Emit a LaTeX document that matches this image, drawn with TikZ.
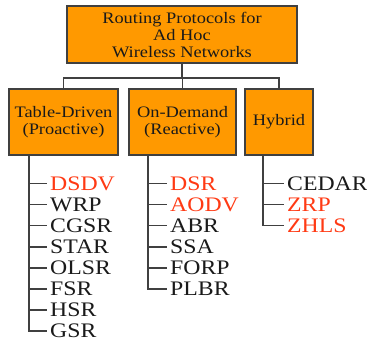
\documentclass[tikz,border=0pt]{standalone}
\usepackage{fontspec}
\setmainfont{Liberation Serif}
\usepackage{graphicx}
\definecolor{boxfill}{HTML}{FF9900}
\definecolor{edge}{HTML}{404040}
\definecolor{hot}{HTML}{FF3A14}
\definecolor{ink}{HTML}{1A1A1A}
% slightly widened lettering
\newcommand{\widen}[1]{\scalebox{1.15}[1]{#1}}
\tikzset{
  catbox/.style={draw=edge, line width=1.3pt, fill=boxfill, text=ink,
    align=center, inner sep=0pt, font=\fontsize{12}{12.75}\selectfont},
  proto/.style={anchor=west, inner xsep=2.2pt, inner ysep=0pt, text=ink,
    font=\fontsize{15.5}{16}\selectfont},
  hotproto/.style={proto, text=hot},
  link/.style={draw=edge, line width=1.1pt}
}
\begin{document}
\begin{tikzpicture}[x=0.75pt, y=-0.75pt]
\useasboundingbox (0,0) rectangle (367,342);

% category boxes
\node[catbox, minimum width=230*0.75pt, minimum height=57*0.75pt] (top) at (182,34.5)
  {\widen{Routing Protocols for}\\\widen{Ad Hoc}\\\widen{Wireless Networks}};
\node[catbox, minimum width=109*0.75pt, minimum height=66*0.75pt] (tab) at (63.5,122)
  {\widen{Table-Driven}\\\widen{(Proactive)}};
\node[catbox, minimum width=107*0.75pt, minimum height=66*0.75pt] (dem) at (182.5,122)
  {\widen{On-Demand}\\\widen{(Reactive)}};
\node[catbox, minimum width=68*0.75pt, minimum height=66*0.75pt] (hyb) at (279,122)
  {\widen{Hybrid}};

% bus joining the root to the three categories
\coordinate (bus) at (182,78);
\draw[link] (top.south) -- (bus);
\draw[link] (tab.north) |- (bus) -| (hyb.north);
\draw[link] (dem.north) -- (dem.north |- bus);

% protocol lists
\def\gap{21.1}
\foreach \name/\sty [count=\i from 0] in
  {DSDV/hotproto, WRP/proto, CGSR/proto, STAR/proto, OLSR/proto, FSR/proto, HSR/proto, GSR/proto}
  \node[\sty] (t\i) at (47,183.5+\i*\gap) {\widen{\name}};
\foreach \name/\sty [count=\i from 0] in
  {DSR/hotproto, AODV/hotproto, ABR/proto, SSA/proto, FORP/proto, PLBR/proto}
  \node[\sty] (d\i) at (167,183.5+\i*\gap) {\widen{\name}};
\foreach \name/\sty [count=\i from 0] in
  {CEDAR/proto, ZRP/hotproto, ZHLS/hotproto}
  \node[\sty] (h\i) at (284,183.5+\i*\gap) {\widen{\name}};

% spines and branches
\coordinate (tspine) at (29,155);
\coordinate (dspine) at (148,155);
\coordinate (hspine) at (263,155);
\draw[link] (tspine) |- (t7.west);
\foreach \i in {0,...,6} \draw[link] (tspine |- t\i.west) -- (t\i.west);
\draw[link] (dspine) |- (d5.west);
\foreach \i in {0,...,4} \draw[link] (dspine |- d\i.west) -- (d\i.west);
\draw[link] (hspine) |- (h2.west);
\foreach \i in {0,1} \draw[link] (hspine |- h\i.west) -- (h\i.west);
\end{tikzpicture}
\end{document}
